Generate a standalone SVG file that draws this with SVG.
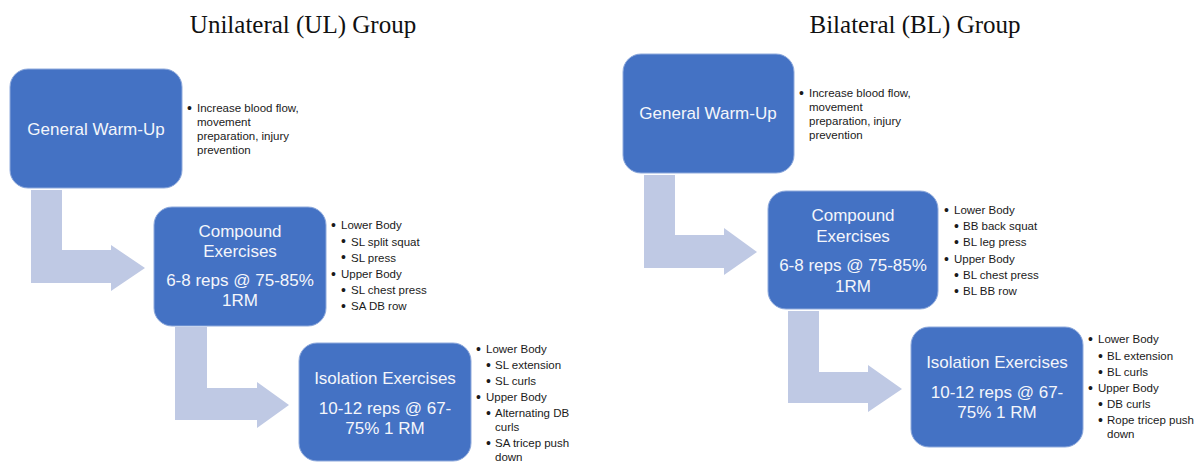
<svg xmlns="http://www.w3.org/2000/svg" width="1199" height="462" viewBox="0 0 1199 462">
<style>
.title{font-family:"Liberation Serif",serif;font-size:25px;fill:#111;text-anchor:middle}
.box{fill:#4472C4;stroke:#8FAADC;stroke-width:1}
.bt{font-family:"Liberation Sans",Arial,sans-serif;font-size:17px;fill:#F4F6FB;text-anchor:middle}
.arrow{fill:#BFC9E4}
.li{font-family:"Liberation Sans",Arial,sans-serif;font-size:11.5px;fill:#1a1a1a}
.li text.b{font-size:14px}
</style>
<rect width="1199" height="462" fill="#fff"/>
<text class="title" x="303" y="33">Unilateral (UL) Group</text>
<text class="title" x="915" y="33">Bilateral (BL) Group</text>

<g id="connectors">
<polygon class="arrow" points="31,190 62,190 62,250 111,250 111,245 145,268 111,291 111,283 31,283"/>
<polygon class="arrow" points="175,327 207,327 207,388 257,388 257,382 289,405 257,428 257,420 175,420"/>
<polygon class="arrow" points="644,175 675,175 675,235 724,235 724,228 757,252 724,275 724,268 644,268"/>
<polygon class="arrow" points="788,311 819,311 819,372 868,372 868,365 902,389 868,412 868,403 788,403"/>
</g>

<g id="ul-warmup">
<rect class="box" x="10" y="69" width="172" height="119" rx="18"/>
<text class="bt" x="96" y="135">General Warm-Up</text>
</g>
<g id="ul-warmup-notes" class="li">
<text class="b" x="187" y="112.5">•</text>
<text x="197" y="112">Increase blood flow,</text>
<text x="197" y="126">movement</text>
<text x="197" y="140">preparation, injury</text>
<text x="197" y="154">prevention</text>
</g>

<g id="ul-compound">
<rect class="box" x="154" y="207" width="172" height="119" rx="18"/>
<text class="bt" x="240" y="237">Compound</text>
<text class="bt" x="240" y="257">Exercises</text>
<text class="bt" x="240" y="286">6-8 reps @ 75-85%</text>
<text class="bt" x="240" y="306">1RM</text>
</g>
<g id="ul-compound-notes" class="li">
<text class="b" x="331" y="229.5">•</text><text x="341" y="229">Lower Body</text>
<text class="b" x="341" y="246">•</text><text x="351" y="245.5">SL split squat</text>
<text class="b" x="341" y="262">•</text><text x="351" y="261.5">SL press</text>
<text class="b" x="331" y="278.5">•</text><text x="341" y="278">Upper Body</text>
<text class="b" x="341" y="294.5">•</text><text x="351" y="294">SL chest press</text>
<text class="b" x="341" y="310.5">•</text><text x="351" y="310">SA DB row</text>
</g>

<g id="ul-isolation">
<rect class="box" x="299" y="343" width="172" height="118" rx="18"/>
<text class="bt" x="385" y="384">Isolation Exercises</text>
<text class="bt" x="385" y="414">10-12 reps @ 67-</text>
<text class="bt" x="385" y="434">75% 1 RM</text>
</g>
<g id="ul-isolation-notes" class="li">
<text class="b" x="476" y="353.5">•</text><text x="486" y="353">Lower Body</text>
<text class="b" x="486" y="369.5">•</text><text x="495" y="369">SL extension</text>
<text class="b" x="486" y="385.5">•</text><text x="495" y="385">SL curls</text>
<text class="b" x="476" y="401.5">•</text><text x="486" y="401">Upper Body</text>
<text class="b" x="486" y="417.5">•</text><text x="495" y="417">Alternating DB</text>
<text x="495" y="431">curls</text>
<text class="b" x="486" y="447.5">•</text><text x="495" y="447">SA tricep push</text>
<text x="495" y="461">down</text>
</g>

<g id="bl-warmup">
<rect class="box" x="623" y="54" width="171" height="119" rx="18"/>
<text class="bt" x="708" y="119">General Warm-Up</text>
</g>
<g id="bl-warmup-notes" class="li">
<text class="b" x="799" y="97.5">•</text>
<text x="809" y="97">Increase blood flow,</text>
<text x="809" y="111">movement</text>
<text x="809" y="125">preparation, injury</text>
<text x="809" y="139">prevention</text>
</g>

<g id="bl-compound">
<rect class="box" x="768" y="191" width="170" height="118" rx="18"/>
<text class="bt" x="853" y="221">Compound</text>
<text class="bt" x="853" y="242">Exercises</text>
<text class="bt" x="853" y="271">6-8 reps @ 75-85%</text>
<text class="bt" x="853" y="292">1RM</text>
</g>
<g id="bl-compound-notes" class="li">
<text class="b" x="944" y="214.5">•</text><text x="954" y="214">Lower Body</text>
<text class="b" x="954" y="230.5">•</text><text x="963" y="230">BB back squat</text>
<text class="b" x="954" y="246.5">•</text><text x="963" y="246">BL leg press</text>
<text class="b" x="944" y="263.5">•</text><text x="954" y="263">Upper Body</text>
<text class="b" x="954" y="279.5">•</text><text x="963" y="279">BL chest press</text>
<text class="b" x="954" y="295.5">•</text><text x="963" y="295">BL BB row</text>
</g>

<g id="bl-isolation">
<rect class="box" x="911" y="327" width="172" height="120" rx="18"/>
<text class="bt" x="997" y="368">Isolation Exercises</text>
<text class="bt" x="997" y="398">10-12 reps @ 67-</text>
<text class="bt" x="997" y="418">75% 1 RM</text>
</g>
<g id="bl-isolation-notes" class="li">
<text class="b" x="1088" y="343.5">•</text><text x="1098" y="343">Lower Body</text>
<text class="b" x="1098" y="360.5">•</text><text x="1107" y="360">BL extension</text>
<text class="b" x="1098" y="376.5">•</text><text x="1107" y="376">BL curls</text>
<text class="b" x="1088" y="392.5">•</text><text x="1098" y="392">Upper Body</text>
<text class="b" x="1098" y="408.5">•</text><text x="1107" y="408">DB curls</text>
<text class="b" x="1098" y="424.5">•</text><text x="1107" y="424">Rope tricep push</text>
<text x="1107" y="438">down</text>
</g>
</svg>
